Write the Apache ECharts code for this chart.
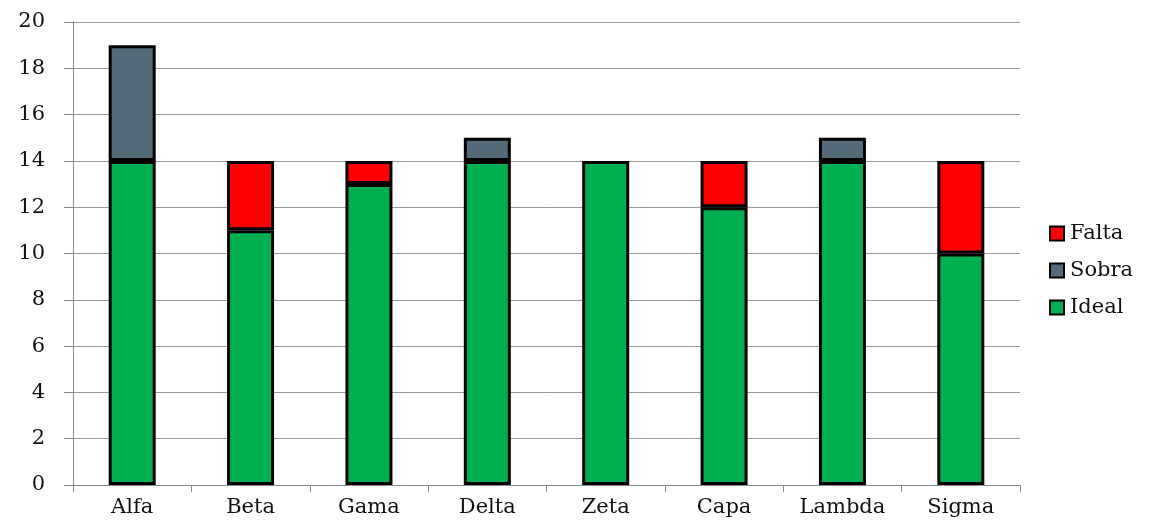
<!DOCTYPE html>
<html>
<head>
<meta charset="utf-8">
<script src="https://cdn.jsdelivr.net/npm/echarts@6/dist/echarts.min.js"></script>
<style>html,body{margin:0;padding:0;background:#fff;}#c{width:1155px;height:532px;}</style>
</head>
<body>
<div id="c"></div>
<script>
const categories = ['Alfa','Beta','Gama','Delta','Zeta','Capa','Lambda','Sigma'];
const ideal = [14, 11, 13, 14, 14, 12, 14, 10];
const sobra = [5, '-', '-', 1, '-', '-', 1, '-'];
const falta = ['-', 3, 1, '-', '-', 2, '-', 4];
const yTicks = [0, 2, 4, 6, 8, 10, 12, 14, 16, 18, 20];

const font = 'DejaVu Serif';
const chart = echarts.init(document.getElementById('c'));
const mk = (name, data, color) => ({
  name, type: 'bar', stack: 'total', data,
  barWidth: 47,
  itemStyle: { color, borderColor: '#000', borderWidth: 3 }
});
chart.setOption({
  animation: false,
  backgroundColor: '#fff',
  grid: { left: 73, right: 135, top: 22, bottom: 47, containLabel: false },
  legend: {
    orient: 'vertical', left: 1044, top: 218, itemGap: 16,
    itemWidth: 14, itemHeight: 14,
    data: ['Falta', 'Sobra', 'Ideal'],
    textStyle: { fontFamily: font, fontSize: 21, color: '#111', padding: [0,0,0,1] },
    icon: 'rect',
    itemStyle: { borderColor: '#000', borderWidth: 2 }
  },
  xAxis: {
    type: 'category', data: categories,
    axisLine: { lineStyle: { color: '#888', width: 1 } },
    axisTick: { show: true, length: 7, lineStyle: { color: '#888' } },
    axisLabel: { fontFamily: font, fontSize: 21, color: '#111', margin: 12 }
  },
  yAxis: {
    type: 'value', min: yTicks[0], max: yTicks[yTicks.length-1], interval: 2,
    axisLine: { show: true, lineStyle: { color: '#888' } },
    axisTick: { show: true, length: 9, lineStyle: { color: '#888' } },
    splitLine: { lineStyle: { color: '#999', width: 1 } },
    axisLabel: { fontFamily: font, fontSize: 21, color: '#111', margin: 28 }
  },
  series: [
    mk('Ideal', ideal, '#00B050'),
    mk('Sobra', sobra, '#566B7A'),
    mk('Falta', falta, '#FF0000')
  ]
});
</script>
</body>
</html>
